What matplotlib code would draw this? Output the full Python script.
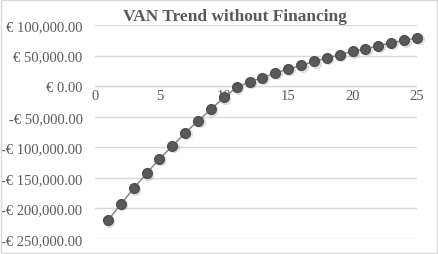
import matplotlib

matplotlib.use("Agg")
import matplotlib.pyplot as plt
from matplotlib.patches import Rectangle
from matplotlib.ticker import FuncFormatter

# data
years = list(range(1, 26))
van = [-219700, -193000, -167200, -142600, -119200, -97900, -76500, -56900,
       -37700, -18500, -2100, 7000, 14000, 21800, 27900, 33900, 40500, 45900,
       51300, 56900, 61100, 66100, 70500, 74900, 78700]
y_ticks = [-250000, -200000, -150000, -100000, -50000, 0, 50000, 100000]
x_ticks = [0, 5, 10, 15, 20, 25]
title = "VAN Trend without Financing"

grey_txt = "#595959"
grid_col = "#d9d9d9"
serif = ["Liberation Serif", "DejaVu Serif"]


def euro(v, _pos=None):
    s = f"€ {abs(v):,.2f}"
    return "-" + s if v < 0 else s


fig = plt.figure(figsize=(4.38, 2.55), dpi=100)
fig.patches.append(Rectangle((0.002, 0.004), 0.995, 0.992, transform=fig.transFigure,
                             fill=False, edgecolor=grid_col, lw=1))
ax = fig.add_axes([0.217, 0.059, 0.735, 0.839])

# soft shadow under the markers
ax.plot([x + 0.12 for x in years], [v - 2200 for v in van], "o", ms=8,
        color="#000000", alpha=0.13, mec="none", clip_on=False, zorder=2)
ax.plot(years, van, "-", color="#7f7f7f", lw=1, zorder=3)
ax.plot(years, van, "o", ms=7, color="#595959", mec="#505050", clip_on=False, zorder=4)

ax.set_xlim(0, 25)
ax.set_ylim(-250000, 100000)
ax.set_yticks(y_ticks)
ax.yaxis.set_major_formatter(FuncFormatter(euro))
ax.grid(axis="y", color=grid_col, lw=1)
ax.set_axisbelow(True)
for sp in ax.spines.values():
    sp.set_visible(False)
ax.tick_params(axis="y", length=0, pad=9, labelsize=10.5, labelcolor=grey_txt)
ax.set_xticks([])

# x axis sits on the zero line, labels just below it
ax.axhline(0, color=grid_col, lw=1, zorder=1)
for xt in x_ticks:
    ax.text(xt, -5000, str(xt), ha="center", va="top", fontsize=10.5,
            color=grey_txt, family=serif, zorder=1)

for lab in ax.get_yticklabels():
    lab.set_family(serif)

fig.text(0.537, 0.935, title, ha="center", va="center", fontsize=12.5,
         fontweight="bold", color=grey_txt, family=serif)

fig.savefig("out.png", dpi=100)
